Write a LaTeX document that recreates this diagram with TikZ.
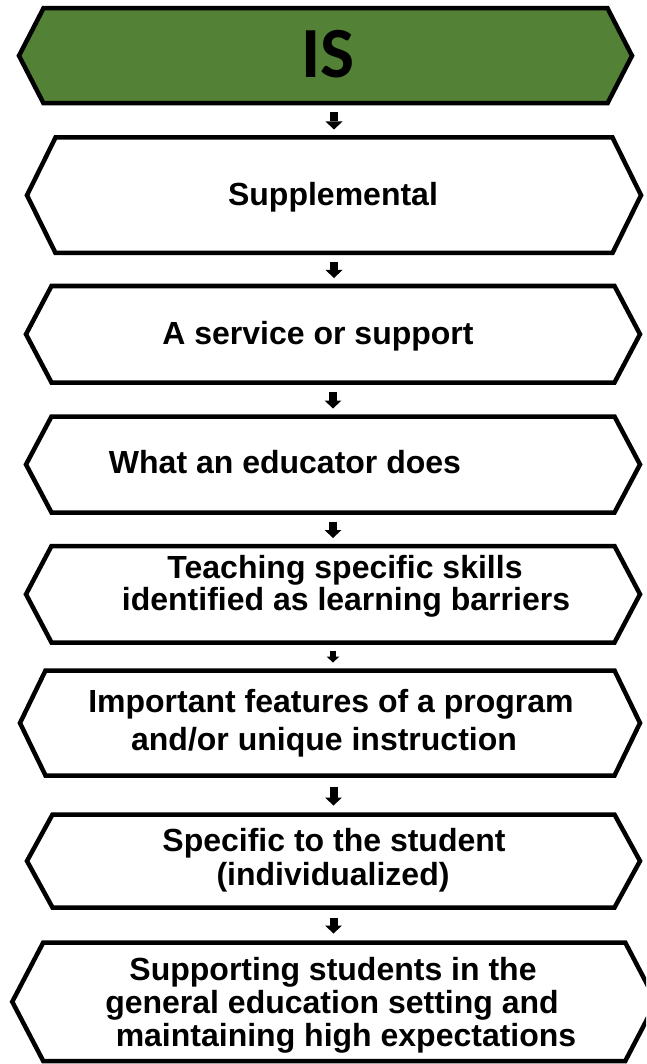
\documentclass[tikz,border=0pt]{standalone}
\usepackage{fontspec}
\setmainfont{Liberation Sans}
\newfontfamily\headfont{Carlito}
\usetikzlibrary{arrows.meta}
\definecolor{leaf}{RGB}{83,129,53}

% outline of an elongated hexagon spanning a rectangular node
\newcommand\hexoutline[2]{(#1.west) -- ([xshift=#2]#1.north west) -- ([xshift=-#2]#1.north east) -- (#1.east) -- ([xshift=-#2]#1.south east) -- ([xshift=#2]#1.south west) -- cycle}

\tikzset{
  area/.style={inner sep=0pt, outer sep=0pt},
  frame/.style={draw=black, line width=4.5pt, line join=miter, miter limit=10},
  caption/.style={font=\fontsize{32}{34}\selectfont\bfseries, inner sep=0pt, anchor=base},
  link/.style={line width=8pt, -{Triangle[width=17pt,length=8pt,line width=0pt]}, shorten <=9pt, shorten >=8pt},
}

\begin{document}
\begin{tikzpicture}[x=1pt, y=-1pt]
\useasboundingbox (0,0) rectangle (646,1064);
\fill[white] (0,0) rectangle (646,1064);
\clip (0,0) rectangle (646,1064);

% boxes (centres and sizes follow the stroke centre lines)
\node[area, minimum width=613pt, minimum height=95pt]    (s1) at (325.5,55.75) {};
\node[area, minimum width=614pt, minimum height=115.5pt] (s2) at (334,195.25) {};
\node[area, minimum width=614pt, minimum height=96.5pt]  (s3) at (333,334.25) {};
\node[area, minimum width=614pt, minimum height=96pt]    (s4) at (333,464.5) {};
\node[area, minimum width=614pt, minimum height=96.5pt]  (s5) at (333,594.25) {};
\node[area, minimum width=620pt, minimum height=105pt]   (s6) at (330,723) {};
\node[area, minimum width=613pt, minimum height=93pt]    (s7) at (333.5,861) {};
\node[area, minimum width=644pt, minimum height=118.5pt] (s8) at (334.25,1001.75) {};

\fill[leaf] \hexoutline{s1}{24.5pt};
\draw[frame] \hexoutline{s1}{24.5pt};
\draw[frame] \hexoutline{s2}{28.5pt};
\draw[frame] \hexoutline{s3}{25.5pt};
\draw[frame] \hexoutline{s4}{25.5pt};
\draw[frame] \hexoutline{s5}{25.5pt};
\draw[frame] \hexoutline{s6}{25.5pt};
\draw[frame] \hexoutline{s7}{25.5pt};
\draw[frame] \hexoutline{s8}{31pt};

% texts
\node[inner sep=0pt, anchor=base, font=\headfont\fontsize{72}{72}\selectfont\bfseries] (t1) at (328,78) {IS};
\node[caption] (t2)  at (333,206) {Supplemental};
\node[caption] (t3)  at (318,344) {A service or support};
\node[caption] (t4)  at (285,473) {What an educator does};
\node[caption] (t5a) at (345,578) {Teaching specific skills};
\node[caption] (t5b) at (346,610) {identified as learning barriers};
\node[caption] (t6a) at (331,712) {Important features of a program};
\node[caption] (t6b) at (324,750) {and/or unique instruction};
\node[caption] (t7a) at (334,851) {Specific to the student};
\node[caption] (t7b) at (333,885) {(individualized)};
\node[caption] (t8a) at (333,980) {Supporting students in the};
\node[caption] (t8b) at (332,1013) {general education setting and};
\node[caption] (t8c) at (346,1046) {maintaining high expectations};

% arrows between consecutive boxes, kept vertical
\draw[link] (s1.south -| s2.north) -- (s2.north);
\draw[link] (s2.south) -- (s2.south |- s3.north);
\draw[link] (s3.south) -- (s4.north);
\draw[link] (s4.south) -- (s5.north);
\draw[link, line width=6pt, -{Triangle[width=13pt,length=6pt,line width=0pt]}, shorten <=8pt, shorten >=8pt] (s5.south) -- (s5.south |- s6.north);
\draw[link, shorten <=11pt, shorten >=9pt] (s6.south -| s7.north) -- (s7.north);
\draw[link, shorten <=10pt, shorten >=9pt] (s7.south) -- (s7.south |- s8.north);
\end{tikzpicture}
\end{document}
